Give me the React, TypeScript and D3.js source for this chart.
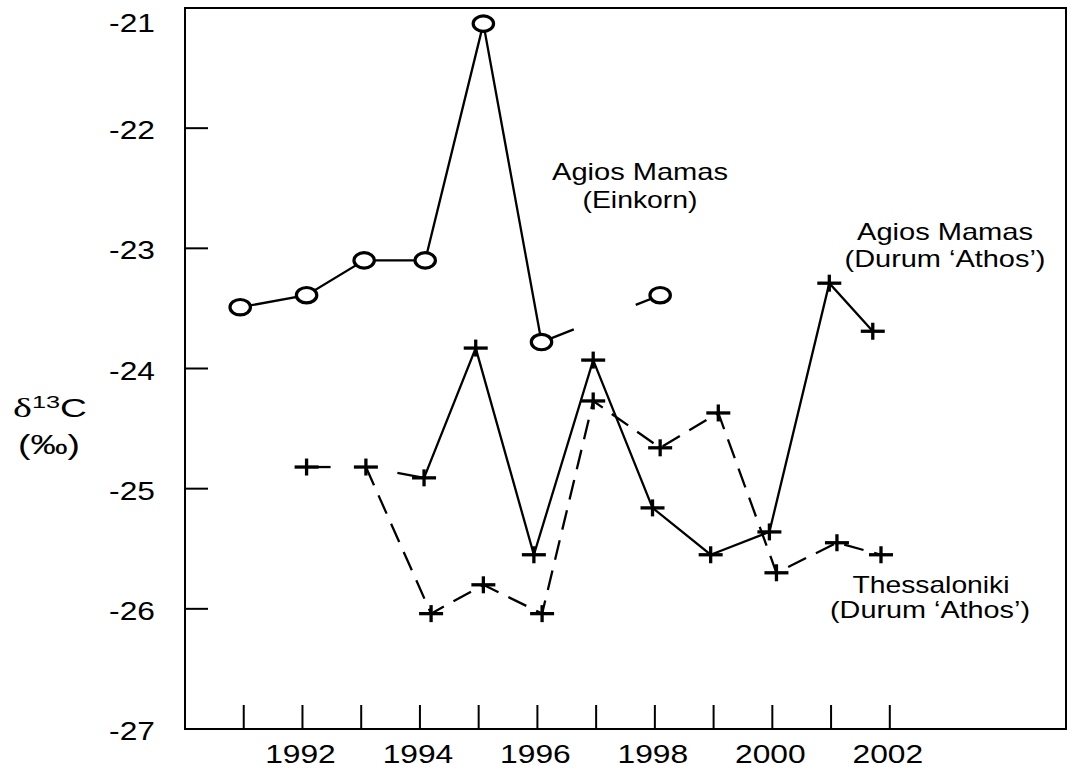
import React from "react";
import * as d3 from "d3";

// ---- data ----
const einkornYears = [1990.94, 1992.07, 1993.05, 1994.09, 1995.08, 1996.07, 1998.09];
const einkornValues = [-23.49, -23.39, -23.1, -23.1, -21.13, -23.78, -23.39];

const amDurumYears = [1994.07, 1994.95, 1995.94, 1996.95, 1997.96, 1998.95, 1999.95, 2000.97, 2001.71];
const amDurumValues = [-24.91, -23.83, -25.55, -23.93, -25.16, -25.55, -25.36, -23.29, -23.69];

const thessYears = [1992.07, 1993.08, 1994.19, 1995.08, 1996.08, 1996.95, 1998.09, 1999.08, 2000.07, 2001.1, 2001.85];
const thessValues = [-24.82, -24.82, -26.04, -25.8, -26.04, -24.27, -24.66, -24.37, -25.7, -25.45, -25.55];

const xTickYears = [1991, 1992, 1993, 1994, 1995, 1996, 1997, 1998, 1999, 2000, 2001, 2002];
const xLabelYears = [1992, 1994, 1996, 1998, 2000, 2002];
const yTickValues = [-22, -23, -24, -25, -26];
const yLabelValues = [-21, -22, -23, -24, -25, -26, -27];

const W = 1070;
const H = 775;
const left = 185, right = 1066, top = 8, bottom = 729;

const x = d3.scaleLinear().domain([1990, 2005]).range([left, right]);
const y = d3.scaleLinear().domain([-27, -21]).range([bottom, top]);

const line = d3
  .line<[number, number]>()
  .x((d) => x(d[0]))
  .y((d) => y(d[1]));

const zip = (a: number[], b: number[]): [number, number][] => a.map((v, i) => [v, b[i]]);

const FONT = "'Liberation Sans', Arial, Helvetica, sans-serif";

function Plus({ cx, cy }: { cx: number; cy: number }) {
  return (
    <g stroke="#000" strokeWidth={3.3}>
      <line x1={cx - 12} x2={cx + 12} y1={cy} y2={cy} />
      <line x1={cx} x2={cx} y1={cy - 8.5} y2={cy + 8.5} />
    </g>
  );
}

export default function App() {
  const ein = zip(einkornYears, einkornValues);
  const am = zip(amDurumYears, amDurumValues);
  const th = zip(thessYears, thessValues);

  const einSolid = ein.slice(0, 6);
  const einBroken = ein.slice(5, 7);

  const thMain = th.slice(1);
  const thFirst = th.slice(0, 2);
  const thToAm = [th[1], am[0]];

  return (
    <svg
      width={W}
      height={H}
      style={{ position: "absolute", left: 0, top: 0, background: "#fff" }}
      fontFamily={FONT}
    >
      <rect x={0} y={0} width={W} height={H} fill="#fff" />
      {/* frame */}
      <rect
        x={left}
        y={top}
        width={right - left}
        height={bottom - top}
        fill="none"
        stroke="#000"
        strokeWidth={2}
      />
      {/* y ticks */}
      {yTickValues.map((v) => (
        <line key={v} x1={left} x2={left + 23} y1={y(v)} y2={y(v)} stroke="#000" strokeWidth={2} />
      ))}
      {/* x ticks */}
      {xTickYears.map((yr) => (
        <line key={yr} x1={x(yr)} x2={x(yr)} y1={bottom} y2={bottom - 24} stroke="#000" strokeWidth={2} />
      ))}
      {/* y labels */}
      {yLabelValues.map((v) => (
        <g key={v} transform={`translate(155,${Math.max(y(v) + 11, 32)}) scale(1.27,1)`}>
          <text textAnchor="end" fontSize={25} fill="#000">
            {String(v)}
          </text>
        </g>
      ))}
      {/* x labels */}
      {xLabelYears.map((yr) => (
        <g key={yr} transform={`translate(${x(yr) - 2},763) scale(1.27,1)`}>
          <text textAnchor="middle" fontSize={25} fill="#000">
            {String(yr)}
          </text>
        </g>
      ))}

      {/* y axis title */}
      <text x={13} y={417} fontSize={25} fill="#000" textLength={74} lengthAdjust="spacingAndGlyphs">
        <tspan fontFamily="'Liberation Serif', 'DejaVu Serif', serif" fontSize={27}>δ</tspan>
        <tspan fontSize={17} dy={-9}>13</tspan>
        <tspan dy={9}>C</tspan>
      </text>
      <text x={18} y={454} fontSize={27} fill="#000" textLength={62} lengthAdjust="spacingAndGlyphs">
        (‰)
      </text>

      {/* Thessaloniki (dashed) */}
      <g fill="none" stroke="#000" strokeWidth={2.3}>
        <path d={line(thMain) || ""} strokeDasharray="20 11" />
        <path d={line(thFirst) || ""} strokeDasharray="24 200" />
        <path d={line(thToAm as [number, number][]) || ""} strokeDasharray="0 32 60" />
      </g>
      {/* Agios Mamas Durum (solid) */}
      <path d={line(am) || ""} fill="none" stroke="#000" strokeWidth={2.3} />
      {/* Einkorn (solid, broken 1996-1998) */}
      <path d={line(einSolid) || ""} fill="none" stroke="#000" strokeWidth={2.3} />
      <path d={line(einBroken) || ""} fill="none" stroke="#000" strokeWidth={2.3} strokeDasharray="34.7 66.6 60" />

      {/* markers */}
      {th.map((d, i) => (
        <Plus key={"t" + i} cx={x(d[0])} cy={y(d[1])} />
      ))}
      {am.map((d, i) => (
        <Plus key={"a" + i} cx={x(d[0])} cy={y(d[1])} />
      ))}
      {ein.map((d, i) => (
        <ellipse key={"e" + i} cx={x(d[0])} cy={y(d[1])} rx={10.2} ry={7.7} fill="#fff" stroke="#000" strokeWidth={3.2} />
      ))}

      {/* annotations */}
      <g fontSize={24} fill="#000" textAnchor="middle">
        <text x={640} y={180} textLength={176} lengthAdjust="spacingAndGlyphs">Agios Mamas</text>
        <text x={640} y={208} textLength={115} lengthAdjust="spacingAndGlyphs">(Einkorn)</text>
        <text x={945} y={240} textLength={176} lengthAdjust="spacingAndGlyphs">Agios Mamas</text>
        <text x={945} y={267} textLength={201} lengthAdjust="spacingAndGlyphs">(Durum ‘Athos’)</text>
        <text x={931} y={593} textLength={157} lengthAdjust="spacingAndGlyphs">Thessaloniki</text>
        <text x={930} y={618} textLength={200} lengthAdjust="spacingAndGlyphs">(Durum ‘Athos’)</text>
      </g>
    </svg>
  );
}
